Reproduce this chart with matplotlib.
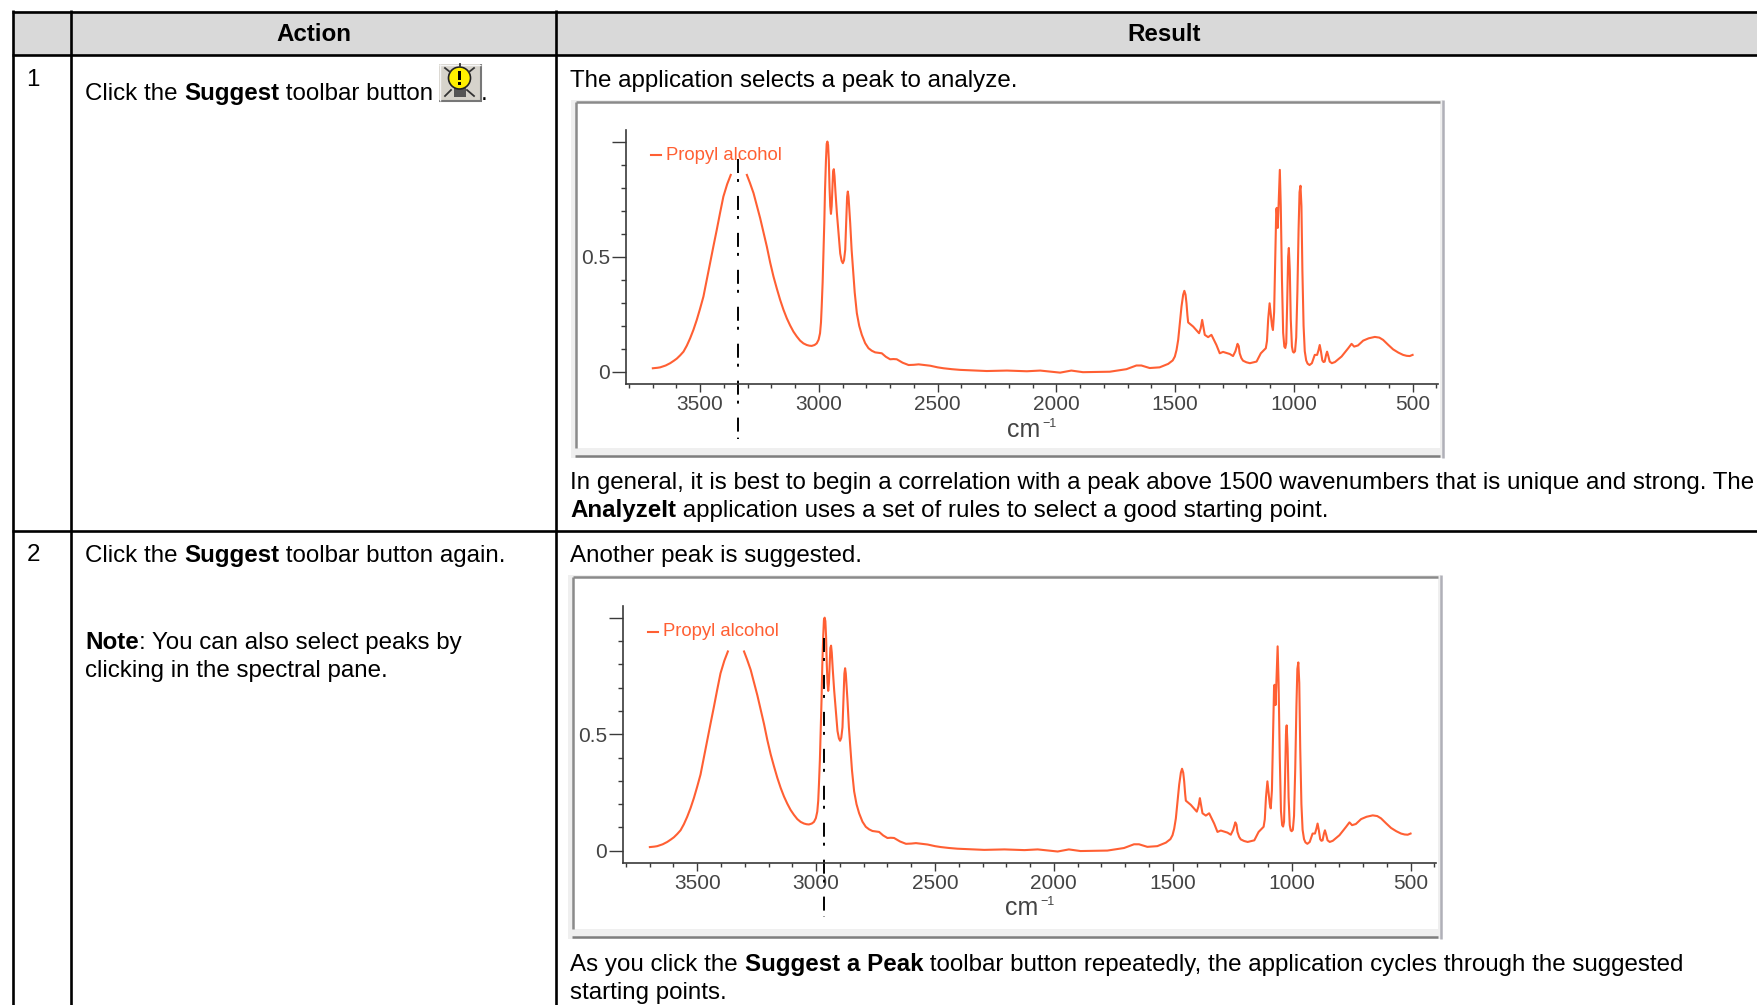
import numpy as np
import matplotlib
matplotlib.use("Agg")
import matplotlib.pyplot as plt
from matplotlib.patches import Rectangle, Circle

WIDTH, HEIGHT = 1757, 1005

# spectrum, nan is the gap around the top of the OH band
wavenumbers = [3699, 3680, 3668, 3645, 3626, 3610, 3598, 3584, 3570, 3556, 3542, 3528, 3514, 3500,
               3486, 3472, 3458, 3444, 3430, 3416, 3402, 3386, 3371, 3340,
               3303, 3290, 3275, 3261, 3247, 3233, 3219, 3205, 3191, 3177, 3163, 3149, 3135, 3121,
               3107, 3093, 3079, 3065, 3051, 3040, 3030, 3018, 3009, 3001, 2995, 2991, 2988, 2984,
               2981, 2977, 2974, 2970, 2967, 2964, 2961, 2958, 2955, 2952, 2949, 2946, 2943, 2940,
               2937, 2934, 2930, 2924, 2917, 2910, 2904, 2899, 2894, 2889, 2885, 2881, 2878, 2875,
               2868, 2862, 2857, 2849, 2840, 2830, 2819, 2805, 2791, 2777, 2763, 2749, 2735, 2718,
               2700, 2686, 2672, 2647, 2622, 2600, 2580, 2555, 2531, 2500, 2475, 2440, 2405,
               2293, 2208, 2124, 2068, 1984, 1937, 1888, 1775, 1705, 1663, 1642, 1607, 1565,
               1529, 1510, 1501, 1494, 1487, 1480, 1473, 1466, 1461, 1456, 1452, 1448, 1445, 1424,
               1405, 1399, 1392, 1386, 1380, 1375, 1361, 1347, 1326, 1312, 1298, 1270, 1256, 1246,
               1237, 1232, 1228, 1221, 1214, 1200, 1185, 1157, 1139, 1118, 1113, 1108, 1102, 1097,
               1092, 1088, 1083, 1078, 1074, 1072, 1068, 1065, 1059, 1055, 1050, 1045, 1040, 1036,
               1032, 1028, 1024, 1021, 1017, 1013, 1008, 1004, 1000, 995, 990, 985, 980, 976, 972,
               968, 964, 959, 954, 948, 942, 934, 924, 912, 902, 896, 891, 886, 880, 875, 870, 864,
               860, 855, 849, 840, 827, 799, 771, 757, 746, 730, 708, 685, 659, 640, 624, 603, 582,
               560, 540, 525, 512, 500]
absorbance = [.016, .018, .020, .028, .038, .049, .058, .072, .088, .114, .146, .183, .226, .275,
              .327, .400, .472, .545, .616, .690, .761, .815, .855, np.nan,
              .855, .820, .776, .722, .667, .605, .544, .475, .414, .362, .313, .270, .233, .202,
              .175, .154, .136, .124, .117, .114, .113, .117, .124, .140, .168, .215, .284, .390,
              .501, .650, .790, .920, .990, 1.0, .985, .920, .800, .720, .686, .720, .800, .870,
              .880, .850, .780, .689, .600, .514, .482, .472, .485, .530, .640, .760, .783, .760,
              .646, .530, .458, .345, .255, .200, .161, .125, .103, .092, .085, .083, .081, .066,
              .055, .056, .055, .040, .030, .031, .033, .030, .027, .020, .016, .012, .009,
              .004, .006, .003, .006, -.003, .006, -.001, .001, .012, .028, .028, .017, .020,
              .035, .050, .067, .095, .139, .210, .284, .335, .352, .335, .298, .245, .215, .197,
              .175, .168, .190, .226, .190, .161, .151, .161, .117, .081, .087, .078, .069, .090,
              .122, .112, .081, .060, .049, .042, .038, .045, .081, .103, .135, .230, .298, .250,
              .200, .182, .260, .500, .705, .712, .625, .700, .877, .720, .400, .170, .110, .104,
              .125, .300, .500, .538, .440, .230, .110, .088, .084, .090, .150, .350, .620, .780, .808,
              .720, .440, .200, .090, .050, .036, .030, .038, .074, .074, .095, .117, .090, .050, .043, .045, .075,
              .088, .070, .045, .038, .043, .067, .103, .122, .110, .115, .136, .146, .152, .149, .139, .118, .098,
              .084, .074, .070, .069, .074]
x_ticks = [3500, 3000, 2500, 2000, 1500, 1000, 500]
x_minor = [3800, 3700, 3600, 3400, 3300, 3200, 3100, 2900, 2800, 2700, 2600, 2400, 2300, 2200,
           2100, 1900, 1800, 1700, 1600, 1400, 1300, 1200, 1100, 900, 800, 700, 600, 400]
y_ticks = [0, 0.5, 1]
y_tick_labels = ["0", "0.5", ""]
y_minor = [.1, .2, .3, .4, .6, .7, .8, .9]
series_name = "Propyl alcohol"
cursor_peaks = [3340, 2968]
cursor_spans = [(0.923, -0.29), (0.914, -0.283)]

LINE = "#FF5F33"
AXIS = "#3A3A3A"
TICKTXT = "#444444"

plt.rcParams['font.family'] = ['Liberation Sans', 'DejaVu Sans']
TEXT_SIZE = 17.33

fig = plt.figure(figsize=(WIDTH / 100, HEIGHT / 100), dpi=100)
page = fig.add_axes([0, 0, 1, 1])
page.set_xlim(0, WIDTH)
page.set_ylim(HEIGHT, 0)
page.axis('off')


def text_width(text, bold):
    # spaces at the ends are not measured, so wrap the text in stop chars
    renderer = fig.canvas.get_renderer()
    weight = 'bold' if bold else 'normal'
    both = page.text(0, 0, '|' + text + '|', fontsize=TEXT_SIZE, fontweight=weight)
    bars = page.text(0, 0, '||', fontsize=TEXT_SIZE, fontweight=weight)
    wide = both.get_window_extent(renderer).width - bars.get_window_extent(renderer).width
    both.remove()
    bars.remove()
    return wide


def runs(x, y, parts):
    # parts is (text, bold) pairs laid out one after the other on a baseline
    for text, bold in parts:
        page.text(x, y, text, fontsize=TEXT_SIZE, color='black', va='baseline', ha='left',
                  fontweight='bold' if bold else 'normal')
        x += text_width(text, bold)


def hline(y, x0, x1, color='black', lw=1.9):
    page.plot([x0, x1], [y, y], color=color, lw=lw, solid_capstyle='butt')


def vline(x, y0, y1, color='black', lw=1.9):
    page.plot([x, x], [y0, y1], color=color, lw=lw, solid_capstyle='butt')


# table grid
page.add_patch(Rectangle((13, 11), WIDTH - 13, 44, color='#D9D9D9', lw=0))
hline(11.5, 12, WIDTH)
hline(55, 12, WIDTH)
hline(531, 12, WIDTH)
vline(12.5, 10, HEIGHT)
vline(70.5, 10, HEIGHT)
vline(556, 10, HEIGHT)

page.text(313.5, 41, "Action", fontsize=TEXT_SIZE, fontweight='bold', ha='center', va='baseline')
page.text(1164, 41, "Result", fontsize=TEXT_SIZE, fontweight='bold', ha='center', va='baseline')

runs(26, 86, [("1", False)])
runs(85, 100, [("Click the ", False), ("Suggest", True), (" toolbar button ", False)])
runs(481, 100, [(".", False)])
runs(27, 561, [("2", False)])
runs(85, 562, [("Click the ", False), ("Suggest", True), (" toolbar button again.", False)])
runs(85, 649, [("Note", True), (": You can also select peaks by", False)])
runs(85, 677, [("clicking in the spectral pane.", False)])

runs(570.5, 87, [("The application selects a peak to analyze.", False)])
runs(570.5, 489, [("In general, it is best to begin a correlation with a peak above 1500 wavenumbers that is unique and strong. The", False)])
runs(570.5, 517, [("AnalyzeIt", True), (" application uses a set of rules to select a good starting point.", False)])
runs(570.5, 562, [("Another peak is suggested.", False)])
runs(570.5, 971, [("As you click the ", False), ("Suggest a Peak", True), (" toolbar button repeatedly, the application cycles through the suggested", False)])
runs(570.5, 999, [("starting points.", False)])

# toolbar icon
page.add_patch(Rectangle((439, 64), 42, 37, color='#D6D3CB', lw=0))
hline(101, 439, 482, color='#777777', lw=1.5)
vline(481, 64, 101, color='#777777', lw=1.5)
hline(64.5, 439, 481, color='#F5F5F5', lw=1)
vline(439.5, 64, 101, color='#F5F5F5', lw=1)
for xs, ys in [((445, 450), (68, 72)), ((474, 469), (68, 72)), ((445, 451), (96, 90)),
               ((474, 467), (96, 90)), ((459.5, 459.5), (64, 66))]:
    page.plot(xs, ys, color='#333333', lw=1.3)
page.add_patch(Rectangle((453.5, 87), 12, 10, color='#555555', lw=0))
page.add_patch(Circle((459.5, 78), 11, facecolor='#FFF000', edgecolor='#222222', lw=1.2))
page.add_patch(Rectangle((458, 71), 3, 9, color='black', lw=0))
page.add_patch(Rectangle((458, 82), 3, 3, color='black', lw=0))


def draw_frame(left, top, right, bottom):
    page.add_patch(Rectangle((left - 5, top - 2), right - left + 5, bottom - top + 4,
                             facecolor='#EFEFEF', edgecolor='none'))
    page.add_patch(Rectangle((left, top), right - left - 3, bottom - top - 8,
                             facecolor='white', edgecolor='none'))
    hline(top, left, right - 3, color='#8A8A8A', lw=1.8)
    hline(bottom, left - 1, right - 3, color='#7E7E7E', lw=1.8)
    vline(left, top, bottom - 8, color='#8A8A8A', lw=1.8)
    vline(right, top - 2, bottom + 2, color='#B0B0B8', lw=1.8)


def draw_spectrum(left, right, axis_y, top_y, cursor, span):
    ax = fig.add_axes([left / WIDTH, 1 - axis_y / HEIGHT,
                       (right - left) / WIDTH, (axis_y - top_y) / HEIGHT])
    ax.patch.set_alpha(0)
    ax.plot(wavenumbers, absorbance, color=LINE, lw=1.5, solid_joinstyle='round')
    ax.set_xlim(3812, 393)
    ax.set_ylim(-0.051, 1.05)
    ax.spines['top'].set_visible(False)
    ax.spines['right'].set_visible(False)
    for side in ('left', 'bottom'):
        ax.spines[side].set_color(AXIS)
        ax.spines[side].set_linewidth(1.2)
    ax.set_xticks(x_ticks)
    ax.set_xticks(x_minor, minor=True)
    ax.set_yticks(y_ticks)
    ax.set_yticklabels(y_tick_labels)
    ax.set_yticks(y_minor, minor=True)
    ax.tick_params(axis='x', which='major', length=6, width=1, color=AXIS, labelcolor=TICKTXT,
                   labelsize=15, pad=2)
    ax.tick_params(axis='x', which='minor', length=3, width=1, color=AXIS)
    ax.tick_params(axis='y', which='major', length=10, width=1, color=AXIS, labelcolor=TICKTXT,
                   labelsize=15, pad=1.5)
    ax.tick_params(axis='y', which='minor', length=3.6, width=1, color=AXIS)
    ax.plot([cursor, cursor], span, color='black', lw=1.4, clip_on=False,
            dashes=(7.2, 3.1, 1.5, 7.2))
    ax.plot([3706, 3665], [0.94, 0.94], color=LINE, lw=1.5)
    ax.text(3645, 0.94, series_name, color=LINE, fontsize=13.3, va='center', ha='left')
    return ax


draw_frame(576, 102, 1443, 456)
draw_spectrum(626, 1438, 383.7, 130, cursor_peaks[0], cursor_spans[0])
page.text(1007, 437, "cm", fontsize=18, color=TICKTXT, va='baseline')
page.text(1042, 427, "\u22121", fontsize=9, color=TICKTXT, va='baseline')

draw_frame(573, 577, 1441, 937)
draw_spectrum(623, 1436, 862.7, 606, cursor_peaks[1], cursor_spans[1])
page.text(1005, 915, "cm", fontsize=18, color=TICKTXT, va='baseline')
page.text(1040, 905, "\u22121", fontsize=9, color=TICKTXT, va='baseline')

fig.savefig("out.png", dpi=100)
